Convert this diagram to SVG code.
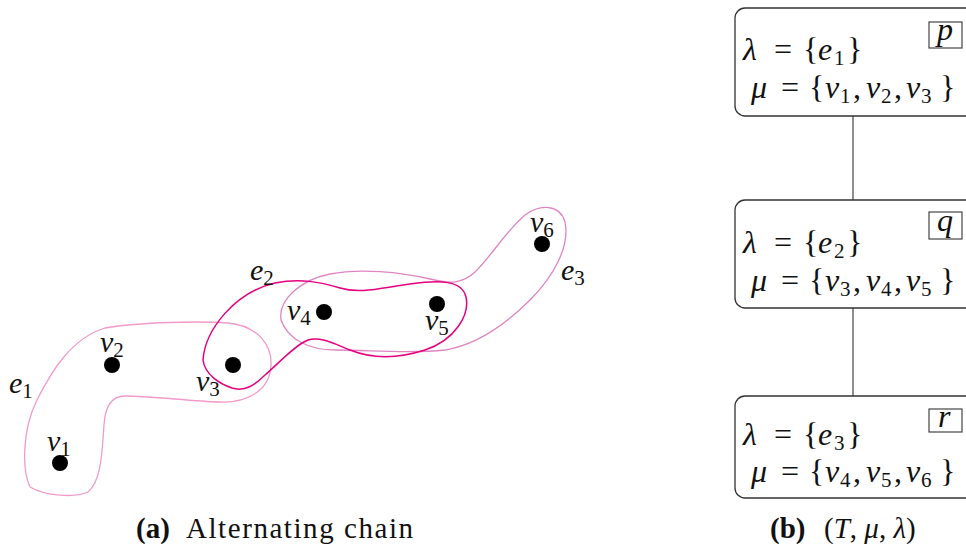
<svg xmlns="http://www.w3.org/2000/svg" width="966" height="550" viewBox="0 0 966 550" font-family="'Liberation Serif', serif">
<style>
text{font-family:"Liberation Serif","Times New Roman",serif;fill:#111}
.lbl{font-size:30px}
.mi{font-style:italic}
.sub{font-size:21px;font-style:normal}
.mth{font-size:32px}
.cap{font-size:29px}
.bf{font-weight:bold}
.node{fill:#000}
.e1{fill:none;stroke:#f29ac9;stroke-width:1.3}
.e2{fill:none;stroke:#e6007e;stroke-width:1.5}
.e3{fill:none;stroke:#df86c2;stroke-width:1.3}
.box{fill:#fff;stroke:#333;stroke-width:1.3}
.tag{fill:#fff;stroke:#333;stroke-width:1.1}
.conn{stroke:#444;stroke-width:1.2;fill:none}
</style>

<g id="hyperedges">
<path id="e1-curve" class="e1" d="M 30 487 C 22 470, 22 430, 37 400 C 52 370, 72 338, 105 328 C 140 322, 200 321, 228 323 C 258 326, 272 345, 271 365 C 270 392, 245 403, 220 402 C 190 401, 150 396, 125 396 C 110 396, 105 408, 104 425 C 102 450, 102 480, 88 492 C 75 498, 45 496, 30 487 Z"/>
<path id="e3-curve" class="e3" d="M 281 320 C 278 300, 300 280, 330 274 C 360 268, 400 272, 430 279 C 450 284, 462 284, 475 272 C 490 258, 505 232, 525 215 C 540 204, 560 204, 565 222 C 570 245, 555 275, 530 300 C 505 325, 475 345, 445 350 C 410 354, 370 350, 335 350 C 310 350, 288 340, 281 320 Z"/>
<path id="e2-curve" class="e2" d="M 203 360 C 205 330, 235 292, 275 283 C 300 278, 320 282, 340 288 C 360 294, 380 288, 410 284 C 440 280, 462 280, 466 297 C 470 315, 455 340, 425 350 C 400 358, 375 360, 350 350 C 335 344, 320 336, 308 340 C 295 345, 280 362, 265 375 C 255 385, 245 392, 232 388 C 220 384, 205 375, 203 360 Z"/>
</g>

<g id="v1"><circle class="node" cx="60" cy="463" r="8"/><text class="lbl" x="47" y="451"><tspan class="mi">v</tspan><tspan class="sub" dy="5">1</tspan></text></g>
<g id="v2"><circle class="node" cx="112" cy="365" r="8"/><text class="lbl" x="100" y="352"><tspan class="mi">v</tspan><tspan class="sub" dy="5">2</tspan></text></g>
<g id="v3"><circle class="node" cx="233" cy="365" r="8"/><text class="lbl" x="196" y="391"><tspan class="mi">v</tspan><tspan class="sub" dy="5">3</tspan></text></g>
<g id="v4"><circle class="node" cx="324" cy="312" r="8"/><text class="lbl" x="287" y="320"><tspan class="mi">v</tspan><tspan class="sub" dy="5">4</tspan></text></g>
<g id="v5"><circle class="node" cx="437" cy="304" r="8"/><text class="lbl" x="425" y="330"><tspan class="mi">v</tspan><tspan class="sub" dy="5">5</tspan></text></g>
<g id="v6"><circle class="node" cx="542" cy="244" r="8"/><text class="lbl" x="530" y="232"><tspan class="mi">v</tspan><tspan class="sub" dy="5">6</tspan></text></g>

<g id="edge-labels">
<text class="lbl" x="9" y="393"><tspan class="mi">e</tspan><tspan class="sub" dy="5">1</tspan></text>
<text class="lbl" x="250" y="280"><tspan class="mi">e</tspan><tspan class="sub" dy="5">2</tspan></text>
<text class="lbl" x="561" y="280"><tspan class="mi">e</tspan><tspan class="sub" dy="5">3</tspan></text>
</g>

<g id="connectors">
<line class="conn" x1="853" y1="116" x2="853" y2="200"/>
<line class="conn" x1="853" y1="308" x2="853" y2="396"/>
</g>

<g id="node-p">
<rect class="box" x="735" y="8" width="260" height="108" rx="10"/>
<rect class="tag" x="929" y="22" width="33" height="26"/>
<text class="mth mi" x="937" y="40">p</text>
<text class="mth" y="60"><tspan x="743" class="mi">λ</tspan><tspan x="774">=</tspan><tspan x="803">{</tspan><tspan x="818" class="mi">e</tspan><tspan x="834" y="65" class="sub">1</tspan><tspan x="847" y="60">}</tspan></text>
<text class="mth" y="98"><tspan x="751" class="mi">μ</tspan><tspan x="781">=</tspan><tspan x="809">{</tspan><tspan x="825" class="mi">v</tspan><tspan x="840" y="103" class="sub">1</tspan><tspan x="853" y="98">,</tspan><tspan x="866" class="mi">v</tspan><tspan x="881" y="103" class="sub">2</tspan><tspan x="894" y="98">,</tspan><tspan x="906" class="mi">v</tspan><tspan x="921" y="103" class="sub">3</tspan><tspan x="940" y="98">}</tspan></text>
</g>

<g id="node-q">
<rect class="box" x="735" y="200" width="260" height="108" rx="10"/>
<rect class="tag" x="929" y="212" width="33" height="27"/>
<text class="mth mi" x="937" y="231">q</text>
<text class="mth" y="253"><tspan x="743" class="mi">λ</tspan><tspan x="774">=</tspan><tspan x="803">{</tspan><tspan x="818" class="mi">e</tspan><tspan x="834" y="258" class="sub">2</tspan><tspan x="847" y="253">}</tspan></text>
<text class="mth" y="291"><tspan x="751" class="mi">μ</tspan><tspan x="781">=</tspan><tspan x="809">{</tspan><tspan x="825" class="mi">v</tspan><tspan x="840" y="296" class="sub">3</tspan><tspan x="853" y="291">,</tspan><tspan x="866" class="mi">v</tspan><tspan x="881" y="296" class="sub">4</tspan><tspan x="894" y="291">,</tspan><tspan x="906" class="mi">v</tspan><tspan x="921" y="296" class="sub">5</tspan><tspan x="940" y="291">}</tspan></text>
</g>

<g id="node-r">
<rect class="box" x="735" y="396" width="260" height="102" rx="10"/>
<rect class="tag" x="929" y="409" width="33" height="23"/>
<text class="mth mi" x="938" y="427">r</text>
<text class="mth" y="445"><tspan x="743" class="mi">λ</tspan><tspan x="774">=</tspan><tspan x="803">{</tspan><tspan x="818" class="mi">e</tspan><tspan x="834" y="450" class="sub">3</tspan><tspan x="847" y="445">}</tspan></text>
<text class="mth" y="482"><tspan x="751" class="mi">μ</tspan><tspan x="781">=</tspan><tspan x="809">{</tspan><tspan x="825" class="mi">v</tspan><tspan x="840" y="487" class="sub">4</tspan><tspan x="853" y="482">,</tspan><tspan x="866" class="mi">v</tspan><tspan x="881" y="487" class="sub">5</tspan><tspan x="894" y="482">,</tspan><tspan x="906" class="mi">v</tspan><tspan x="921" y="487" class="sub">6</tspan><tspan x="940" y="482">}</tspan></text>
</g>

<g id="captions">
<text class="cap" y="538"><tspan x="136" class="bf">(a)</tspan><tspan x="186" textLength="227" lengthAdjust="spacing">Alternating chain</tspan></text>
<text class="cap" y="538"><tspan x="770" class="bf">(b)</tspan><tspan x="824">(</tspan><tspan class="mi">T</tspan><tspan>, </tspan><tspan class="mi">μ</tspan><tspan>, </tspan><tspan class="mi">λ</tspan><tspan>)</tspan></text>
</g>
</svg>
